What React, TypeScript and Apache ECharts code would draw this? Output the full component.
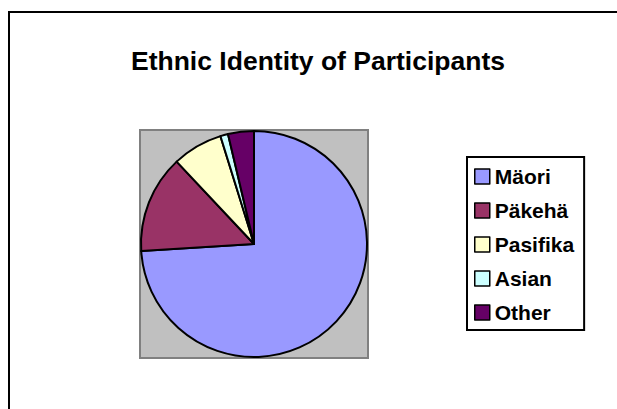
import React, { useEffect, useRef } from "react";
import * as echarts from "echarts";

const categories = ["Mäori", "Päkehä", "Pasifika", "Asian", "Other"];
const values = [74.0, 14.0, 7.2, 1.1, 3.7];
const colors = ["#9999FF", "#993366", "#FFFFCC", "#CCFFFF", "#660066"];
const titleText = "Ethnic Identity of Participants";

export default function App() {
  const ref = useRef<HTMLDivElement>(null);
  useEffect(() => {
    if (!ref.current) return;
    const chart = echarts.init(ref.current, undefined, { renderer: "svg" });
    chart.setOption({
      animation: false,
      backgroundColor: "#ffffff",
      graphic: [
        {
          type: "rect",
          shape: { x: 9, y: 12, width: 700, height: 500 },
          style: { fill: "none", stroke: "#000", lineWidth: 2 },
          z: 0,
        },
        {
          type: "rect",
          shape: { x: 140, y: 130, width: 228, height: 228 },
          style: { fill: "#C0C0C0", stroke: "#808080", lineWidth: 2 },
          z: 0,
        },
        {
          type: "text",
          x: 318,
          y: 61,
          style: {
            text: titleText,
            fill: "#000",
            font: "bold 26.5px Arial, 'Liberation Sans', sans-serif",
            textAlign: "center",
            textVerticalAlign: "middle",
          },
          z: 5,
        },
      ],
      legend: {
        orient: "vertical",
        left: 467,
        top: 157,
        padding: [9, 10, 7, 7],
        borderColor: "#000",
        borderWidth: 2,
        backgroundColor: "#fff",
        itemWidth: 15,
        itemHeight: 15,
        itemGap: 13,
        icon: "rect",
        itemStyle: { borderColor: "#000", borderWidth: 1.5 },
        selectedMode: false,
        textStyle: {
          fontFamily: "Arial, 'Liberation Sans', sans-serif",
          fontWeight: "bold",
          fontSize: 21,
          lineHeight: 21,
          color: "#000",
        },
        data: categories,
      },
      series: [
        {
          type: "pie",
          center: [254, 244],
          radius: 113,
          startAngle: 90,
          clockwise: true,
          label: { show: false },
          labelLine: { show: false },
          emphasis: { disabled: true },
          itemStyle: { borderColor: "#000", borderWidth: 2 },
          data: categories.map((name, i) => ({
            name,
            value: values[i],
            itemStyle: { color: colors[i] },
          })),
        },
      ],
    });
    return () => chart.dispose();
  }, []);
  return (
    <div
      ref={ref}
      style={{ position: "fixed", left: 0, top: 0, width: 617, height: 409, background: "#fff" }}
    />
  );
}
